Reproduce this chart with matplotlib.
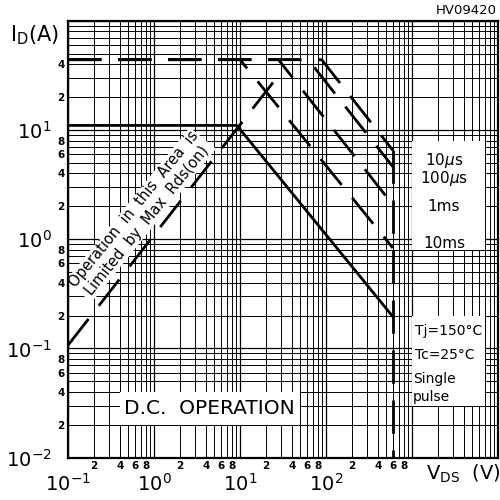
import matplotlib
matplotlib.use('Agg')
import matplotlib.pyplot as plt
from matplotlib.patches import Rectangle
from matplotlib.ticker import FixedLocator, FixedFormatter

plt.rcParams['font.family'] = ['DejaVu Sans']
plt.rcParams['mathtext.fontset'] = 'dejavusans'
plt.rcParams['lines.scale_dashes'] = False

# ---------------- data ----------------
i_pulse_max = 44.0          # A, pulsed current limit
v_max = 600.0               # V, breakdown limit
pulse_labels = ['10$\\mu$s', '100$\\mu$s', '1ms', '10ms']
pulse_knee_v = [89.0, 62.0, 28.0, 10.0]
pulse_end_i = [6.5, 4.6, 2.06, 0.83]
dc_v = [0.1, 9.2, 600.0]
dc_i = [11.0, 11.0, 0.195]
rds_v = [0.1, 32.0]
rds_i = [0.107, 36.0]

x_lim = [0.1, 1e4]
y_lim = [0.01, 100]
x_major_ticks = [0.1, 1, 10, 100, 1000, 10000]
x_major_labels = ['$10^{-1}$', '$10^{0}$', '$10^{1}$', '$10^{2}$', '', '']
y_major_ticks = [0.01, 0.1, 1, 10, 100]
y_major_labels = ['$10^{-2}$', '$10^{-1}$', '$10^{0}$', '$10^{1}$', '']
minor_mult = [2, 3, 4, 5, 6, 7, 8, 9]
labelled_mult = [2, 4, 6, 8]
x_decades = [0.1, 1, 10, 100, 1000]
x_labelled_decades = [0.1, 1, 10, 100]
y_decades = [0.01, 0.1, 1, 10]
y_labelled_decades = [0.01, 0.1, 1]
y_top_decade_mult = [2, 4]

cond_labels = ['Tj=150°C', 'Tc=25°C', 'Single', 'pulse']

# ---------------- figure ----------------
fig = plt.figure(figsize=(5, 5), dpi=100)
ax = fig.add_axes([0.136, 0.0846, 0.86, 0.874])
ax.set_xscale('log')
ax.set_yscale('log')
ax.set_xlim(*x_lim)
ax.set_ylim(*y_lim)

# ticks
x_minor, x_minor_lab = [], []
for d in x_decades:
    for m in minor_mult:
        x_minor.append(m * d)
        x_minor_lab.append(str(m) if (m in labelled_mult and d in x_labelled_decades) else '')
y_minor, y_minor_lab = [], []
for d in y_decades:
    for m in minor_mult:
        y_minor.append(m * d)
        if d in y_labelled_decades and m in labelled_mult:
            y_minor_lab.append(str(m))
        elif d == 10 and m in y_top_decade_mult:
            y_minor_lab.append(str(m))
        else:
            y_minor_lab.append('')

ax.xaxis.set_major_locator(FixedLocator(x_major_ticks))
ax.xaxis.set_major_formatter(FixedFormatter(x_major_labels))
ax.xaxis.set_minor_locator(FixedLocator(x_minor))
ax.xaxis.set_minor_formatter(FixedFormatter(x_minor_lab))
ax.yaxis.set_major_locator(FixedLocator(y_major_ticks))
ax.yaxis.set_major_formatter(FixedFormatter(y_major_labels))
ax.yaxis.set_minor_locator(FixedLocator(y_minor))
ax.yaxis.set_minor_formatter(FixedFormatter(y_minor_lab))

ax.tick_params(which='both', length=0)
ax.tick_params(axis='x', which='major', pad=11, labelsize=14)
ax.tick_params(axis='x', which='minor', pad=2.5, labelsize=7.5)
ax.tick_params(axis='y', which='major', pad=12, labelsize=14)
ax.tick_params(axis='y', which='minor', pad=2.5, labelsize=7.5)
for t in ax.xaxis.get_minorticklabels() + ax.yaxis.get_minorticklabels():
    t.set_fontweight('bold')

ax.set_axisbelow(True)
ax.grid(which='major', color='black', lw=0.9)
ax.grid(which='minor', color='black', lw=0.7)
for s in ax.spines.values():
    s.set_linewidth(1.6)
    s.set_zorder(6)

# white label boxes covering the grid
for (x0, x1, y0, y1) in [(1000, 7000, 0.8, 8.0), (1000, 7000, 0.03, 0.2), (0.4, 50, 0.02, 0.04)]:
    ax.add_patch(Rectangle((x0, y0), x1 - x0, y1 - y0, facecolor='white',
                           edgecolor='none', zorder=1))

dash = (0, (24, 12))
lw = 2.0
# pulse curves
for kv, ei in zip(pulse_knee_v, pulse_end_i):
    ax.plot([x_lim[0], kv, v_max], [i_pulse_max, i_pulse_max, ei], color='black',
            lw=lw, linestyle=dash, zorder=5)
# breakdown voltage limit
ax.plot([v_max, v_max], [pulse_end_i[0], y_lim[0]], color='black', lw=lw,
        linestyle=dash, zorder=5)
# DC operation
ax.plot(dc_v, dc_i, color='black', lw=lw, zorder=5)
# Rds(on) limit
ax.plot(rds_v, rds_i, color='black', lw=lw, linestyle=dash, zorder=5)

# annotations
ax.text(0.70, 1.67, 'Operation  in  this  Area  is\nLimited  by  Max  Rds(on)',
        rotation=51, rotation_mode='anchor', ha='center', va='center',
        multialignment='center', fontsize=10.5, linespacing=1.2, zorder=4,
        bbox=dict(facecolor='white', edgecolor='none', pad=0.5))
label_y = [5.3, 3.62, 2.0, 0.92]
for lab, yy in zip(pulse_labels, label_y):
    ax.text(2350, yy, lab, ha='center', va='center', fontsize=11, zorder=4)
ax.text(2690, 0.1445, cond_labels[0], ha='center', va='center', fontsize=10, zorder=4)
ax.text(2420, 0.0871, cond_labels[1], ha='center', va='center', fontsize=10, zorder=4)
ax.text(1030, 0.0525, cond_labels[2], ha='left', va='center', fontsize=10, zorder=4)
ax.text(1030, 0.0356, cond_labels[3], ha='left', va='center', fontsize=10, zorder=4)
ax.text(4.4, 0.028, 'D.C.  OPERATION', ha='center', va='center', fontsize=14.5, zorder=4)

fig.text(35 / 500, 1 - 35 / 500, '$\\mathregular{I_D(A)}$', ha='center', va='center', fontsize=15)
fig.text(463 / 500, 1 - 474 / 500, '$\\mathregular{V_{DS}\\ \\ (V)}$', ha='center', va='center', fontsize=14)
fig.text(466 / 500, 1 - 11 / 500, 'HV09420', ha='center', va='center', fontsize=9.5)

fig.savefig('out.png', dpi=100, facecolor='white')
